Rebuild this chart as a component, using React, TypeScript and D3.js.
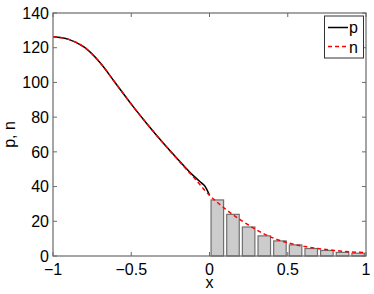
import React from "react";
import * as d3 from "d3";

const xP = [-1, -0.9, -0.8, -0.7, -0.6, -0.5, -0.4, -0.3, -0.2, -0.1, -0.05, -0.03, 0];
const pVals = [126.3, 124.8, 120.3, 111.5, 99.5, 87.5, 76.2, 65.5, 55.5, 46, 42, 40.3, 35];

const xN = [-1, -0.9, -0.8, -0.7, -0.6, -0.5, -0.4, -0.3, -0.2, -0.1, 0, 0.1, 0.2, 0.3, 0.4, 0.5, 0.6, 0.7, 0.8, 0.9, 1];
const nVals = [126.3, 124.8, 120.3, 111.5, 99.5, 87.5, 76.2, 65.5, 55.2, 45.2, 35, 27.2, 20.7, 15.1, 10.6, 7.6, 5.6, 4.2, 3.2, 2.4, 1.9];

const binCenters = [0.05, 0.15, 0.25, 0.35, 0.45, 0.55, 0.65, 0.75, 0.85, 0.95];
const binVals = [32.3, 24.0, 16.7, 11.6, 8.7, 6.4, 4.3, 3.2, 2.1, 1.6];

const xTicks = [-1, -0.5, 0, 0.5, 1];
const xTickLabels = ["\u22121", "\u22120.5", "0", "0.5", "1"];
const yTicks = [0, 20, 40, 60, 80, 100, 120, 140];

export default function App() {
  const W = 374, H = 294;
  const L = 53, R = 366, T = 13, B = 256;
  const x = d3.scaleLinear().domain([-1, 1]).range([L, R]);
  const y = d3.scaleLinear().domain([0, 140]).range([B, T]);
  const line = d3.line<number>().curve(d3.curveMonotoneX);
  const pPath = line(xP.map((v, i) => [x(v), y(pVals[i])]) as any);
  const nPath = line(xN.map((v, i) => [x(v), y(nVals[i])]) as any);
  const bw = 0.08;
  const axisColor = "#6a6a6a";
  const font = "Liberation Sans, Arial, Helvetica, sans-serif";
  return (
    <svg width={W} height={H} style={{ position: "absolute", left: 0, top: 0 }} fontFamily={font}>
      <rect x={0} y={0} width={W} height={H} fill="#fff" />
      {binCenters.map((c, i) => (
        <rect key={i} x={x(c - bw / 2)} y={y(binVals[i])} width={x(c + bw / 2) - x(c - bw / 2)} height={y(0) - y(binVals[i])}
          fill="#cccccc" stroke="#707070" strokeWidth={1.2} />
      ))}
      <path d={pPath || ""} fill="none" stroke="#000" strokeWidth={1.5} />
      <path d={nPath || ""} fill="none" stroke="#ff0000" strokeWidth={1.5} strokeDasharray="4,3" />
      <rect x={L} y={T} width={R - L} height={B - T} fill="none" stroke={axisColor} strokeWidth={1.2} />
      {yTicks.map((t) => (
        <g key={t}>
          <line x1={L} x2={L + 4} y1={y(t)} y2={y(t)} stroke={axisColor} />
          <line x1={R} x2={R - 4} y1={y(t)} y2={y(t)} stroke={axisColor} />
          <text x={L - 4} y={y(t)} dy="0.36em" textAnchor="end" fontSize={16} fill="#000">{t}</text>
        </g>
      ))}
      {xTicks.map((t, i) => (
        <g key={t}>
          <line x1={x(t)} x2={x(t)} y1={B} y2={B - 4} stroke={axisColor} />
          <line x1={x(t)} x2={x(t)} y1={T} y2={T + 4} stroke={axisColor} />
          <text x={x(t)} y={275} textAnchor="middle" fontSize={16} fill="#000">{xTickLabels[i]}</text>
        </g>
      ))}
      <text x={(L + R) / 2} y={288} textAnchor="middle" fontSize={16} fill="#000">x</text>
      <text transform={`translate(15, ${(T + B) / 2}) rotate(-90)`} textAnchor="middle" fontSize={16} fill="#000">p, n</text>
      <g>
        <rect x={324.5} y={16} width={39} height={42} fill="#fff" stroke="#333" strokeWidth={1} />
        <line x1={328} x2={348} y1={27.5} y2={27.5} stroke="#000" strokeWidth={1.5} />
        <text x={349} y={33} fontSize={16} fill="#000">p</text>
        <line x1={328} x2={348} y1={46.5} y2={46.5} stroke="#ff0000" strokeWidth={1.5} strokeDasharray="4,3" />
        <text x={349} y={52.5} fontSize={16} fill="#000">n</text>
      </g>
    </svg>
  );
}
